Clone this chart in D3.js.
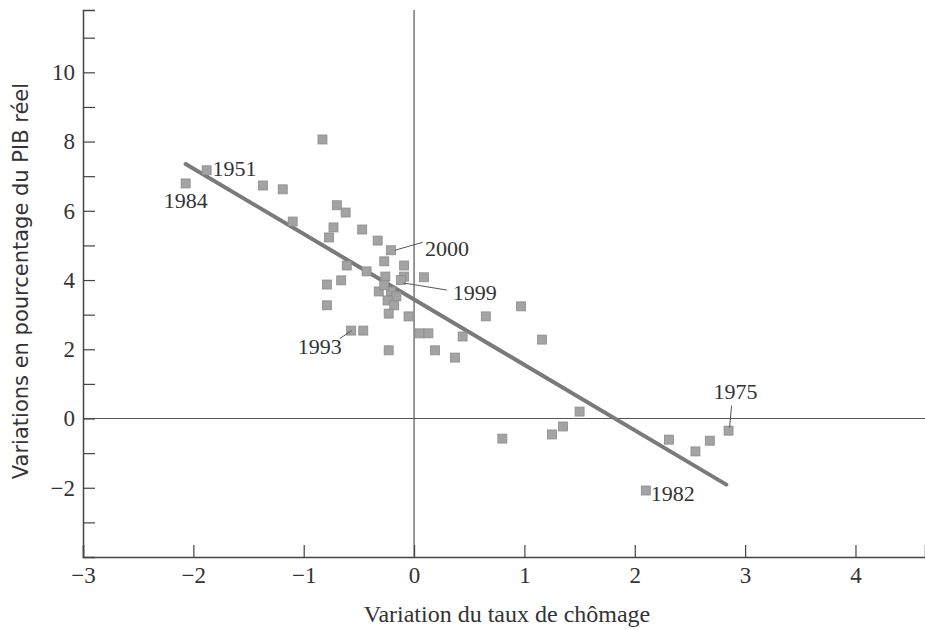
<!DOCTYPE html>
<html>
<head>
<meta charset="utf-8">
<script src="https://cdn.jsdelivr.net/npm/d3@7"></script>
<style>
  html, body { margin: 0; padding: 0; background: #fff; }
  svg { display: block; }
  svg text { fill: #333; }
</style>
</head>
<body>
<svg id="chart" width="925" height="630"></svg>
<script>
// ---- Data ----
const unemploymentChange = [
  -2.07, -1.88, -0.83, -1.37, -1.19, -1.10, -0.70, -0.62, -0.73, -0.77,
  -0.47, -0.33, -0.21, -0.27, -0.09, -0.09, 0.09, -0.61, -0.43, -0.26,
  -0.79, -0.66, -0.32, -0.21, -0.16, -0.24, -0.18, -0.23, -0.79, -0.05,
  -0.57, -0.46, -0.23, 0.05, 0.13, 0.19, 0.37, 0.44, 0.65, 0.97,
  1.16, 0.80, 1.25, 1.35, 1.50, 2.31, 2.55, 2.68, 2.85, 2.10,
  -0.12, -0.27
];
const gdpGrowth = [
  6.79, 7.17, 8.06, 6.73, 6.62, 5.69, 6.16, 5.95, 5.52, 5.23,
  5.46, 5.14, 4.86, 4.54, 4.42, 4.10, 4.08, 4.42, 4.25, 4.10,
  3.87, 3.99, 3.67, 3.67, 3.53, 3.41, 3.27, 3.03, 3.27, 2.95,
  2.54, 2.54, 1.97, 2.46, 2.46, 1.97, 1.76, 2.37, 2.95, 3.24,
  2.28, -0.58, -0.46, -0.23, 0.20, -0.61, -0.95, -0.64, -0.35, -2.08,
  4.00, 3.85
];
const xTicks = [-3, -2, -1, 0, 1, 2, 3, 4];
const yTicks = [-2, 0, 2, 4, 6, 8, 10];
const yMinorTicks = [-3, -1, 1, 3, 5, 7, 9, 11];
// Fitted line (Okun's law): y = intercept + slope * x
const fitIntercept = 3.44;
const fitSlope = -1.89;
const fitRange = [-2.07, 2.83];
// Annotated years
const labelYears = ["1984", "1951", "2000", "1999", "1993", "1975", "1982"];
const labelX = [-2.07, -1.88, -0.21, -0.12, -0.51, 2.85, 2.10];
const labelY = [6.79, 7.17, 4.86, 4.00, 2.54, -0.35, -2.08];

const xTitle = "Variation du taux de chômage";
const yTitle = "Variations en pourcentage du PIB réel";

// ---- Layout ----
const FONT = "'Liberation Serif', 'Times New Roman', serif";
const SANS = "'DejaVu Sans', 'Liberation Sans', sans-serif";
const svg = d3.select("#chart");
const mLeft = 83, mRight = 925, mTop = 10, mBottom = 557;
const x = d3.scaleLinear().domain([-3, 4.63]).range([mLeft, mRight]);
const y = d3.scaleLinear().domain([-4, 11.8]).range([mBottom, mTop]);
const axisColor = "#444";

// Zero reference lines
svg.append("line")
  .attr("x1", x(0)).attr("x2", x(0)).attr("y1", mTop).attr("y2", mBottom)
  .attr("stroke", "#555").attr("stroke-width", 1.2);
svg.append("line")
  .attr("x1", mLeft).attr("x2", mRight).attr("y1", y(0)).attr("y2", y(0))
  .attr("stroke", "#555").attr("stroke-width", 1.2);

// X axis (ticks pointing inward/up)
const xAxis = d3.axisBottom(x).tickValues(xTicks).tickSize(-12).tickPadding(10)
  .tickFormat(d => d < 0 ? "\u2212" + Math.abs(d) : d);
const gx = svg.append("g").attr("transform", `translate(0,${mBottom})`).call(xAxis)
  .attr("font-family", FONT);
gx.select(".domain").attr("stroke", axisColor).attr("stroke-width", 1.5);
gx.selectAll(".tick line").attr("stroke", axisColor).attr("stroke-width", 1.2);
gx.selectAll(".tick text").style("font-size", "23px").style("font-family", FONT).attr("fill", "#333");

// Y axis (ticks pointing inward/right)
const yAxis = d3.axisLeft(y).tickValues(yTicks).tickSize(-12).tickPadding(8)
  .tickFormat(d => d < 0 ? "\u2212" + Math.abs(d) : d);
const gy = svg.append("g").attr("transform", `translate(${mLeft},0)`).call(yAxis)
  .attr("font-family", FONT);
gy.select(".domain").attr("stroke", axisColor).attr("stroke-width", 1.5);
gy.selectAll(".tick line").attr("stroke", axisColor).attr("stroke-width", 1.2);
gy.selectAll(".tick text").style("font-size", "23px").style("font-family", FONT).attr("fill", "#333");
const yMinor = d3.axisLeft(y).tickValues(yMinorTicks).tickSize(-12).tickFormat("");
const gym = svg.append("g").attr("transform", `translate(${mLeft},0)`).call(yMinor);
gym.select(".domain").remove();
gym.selectAll(".tick line").attr("stroke", axisColor).attr("stroke-width", 1.2);

// Axis titles
svg.append("text")
  .attr("x", 507).attr("y", 622)
  .attr("text-anchor", "middle").style("font-size", "24px").style("font-family", FONT)
  .text(xTitle);
svg.append("text")
  .attr("transform", `translate(28, 281) rotate(-90)`)
  .attr("text-anchor", "middle").style("font-size", "21px").style("font-family", SANS)
  .text(yTitle);

// Regression line
svg.append("line")
  .attr("x1", x(fitRange[0])).attr("y1", y(fitIntercept + fitSlope * fitRange[0]))
  .attr("x2", x(fitRange[1])).attr("y2", y(fitIntercept + fitSlope * fitRange[1]))
  .attr("stroke", "#7a7a7a").attr("stroke-width", 4).attr("stroke-linecap", "round");

// Points
const pts = unemploymentChange.map((u, i) => ({ u, g: gdpGrowth[i] }));
const s = 9;
svg.append("g").selectAll("rect").data(pts).join("rect")
  .attr("x", d => x(d.u) - s / 2).attr("y", d => y(d.g) - s / 2)
  .attr("width", s).attr("height", s)
  .attr("fill", "#a3a3a3").attr("stroke", "#8c8c8c").attr("stroke-width", 0.8);

// Year annotations (offsets in px relative to the point)
const ann = {
  "1984": { dx: 0, dy: 25, anchor: "middle", leader: null },
  "1951": { dx: 6, dy: 6, anchor: "start", leader: null },
  "2000": { dx: 34, dy: 6, anchor: "start", leader: [[4, 0], [32, -8]] },
  "1999": { dx: 52, dy: 20, anchor: "start", leader: [[3, 3], [46, 10]] },
  "1993": { dx: -16, dy: 23, anchor: "end", leader: [[-6, 0], [-18, 8]] },
  "1975": { dx: 7, dy: -32, anchor: "middle", leader: [[1, -3], [3, -25]] },
  "1982": { dx: 5, dy: 10, anchor: "start", leader: null }
};
const ga = svg.append("g");
labelYears.forEach((yr, i) => {
  const px = x(labelX[i]), py = y(labelY[i]);
  const a = ann[yr];
  if (a.leader) {
    ga.append("line")
      .attr("x1", px + a.leader[0][0]).attr("y1", py + a.leader[0][1])
      .attr("x2", px + a.leader[1][0]).attr("y2", py + a.leader[1][1])
      .attr("stroke", "#555").attr("stroke-width", 1);
  }
  ga.append("text")
    .attr("x", px + a.dx).attr("y", py + a.dy)
    .attr("text-anchor", a.anchor).style("font-size", "22px").style("font-family", FONT)
    .text(yr);
});
</script>
</body>
</html>
